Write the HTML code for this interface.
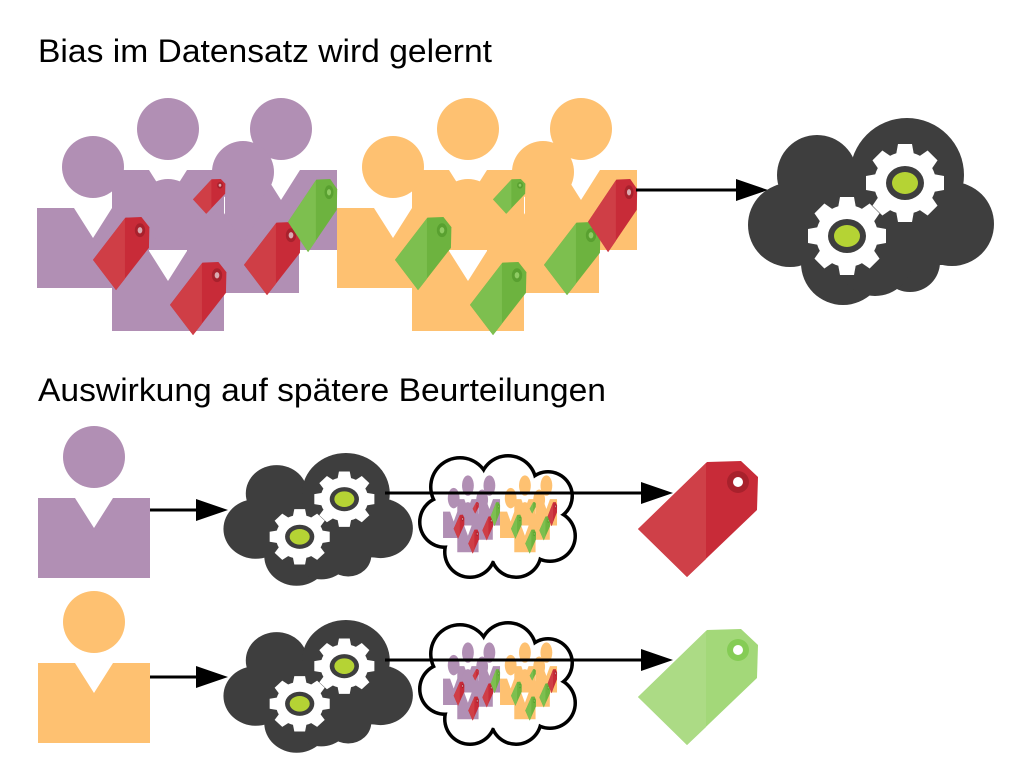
<!DOCTYPE html>
<html><head><meta charset="utf-8"><style>
html,body{margin:0;padding:0;background:#fff;width:1035px;height:780px;overflow:hidden}
svg{display:block}
text{font-family:"Liberation Sans",sans-serif;fill:#000}
</style></head><body>
<svg width="1035" height="780" viewBox="0 0 1035 780" xmlns="http://www.w3.org/2000/svg">
<defs>
  <g id="person">
    <circle cx="0" cy="0" r="31"/>
    <path d="M-56 41 H-19 L0 71 L19 41 H56 V121 H-56 Z"/>
  </g>
  <g id="tagR">
    <polygon points="0,68 69,1 103,0 120,16 119,49 49,116" fill="#c82b38"/>
    <polygon points="0,68 68,2 68,98 49,116" fill="#cf3e46"/>
    <circle cx="100" cy="21" r="11" fill="#a8212c"/>
    <circle cx="100" cy="21" r="5" fill="#d9aab0"/>
  </g>
  <g id="tagG">
    <polygon points="0,68 69,1 103,0 120,16 119,49 49,116" fill="#6db33f"/>
    <polygon points="0,68 68,2 68,98 49,116" fill="#7dbf4f"/>
    <circle cx="100" cy="21" r="11" fill="#59a030"/>
    <circle cx="100" cy="21" r="5" fill="#8fcb63"/>
  </g>
  <g id="grpP" fill="#b18fb4">
    <use href="#person" x="168" y="129"/>
    <use href="#person" x="281" y="129"/>
    <use href="#person" x="93" y="167"/>
    <use href="#person" x="243" y="172"/>
    <use href="#person" x="168" y="210"/>
  </g>
  <g id="grpO" fill="#fec171">
    <use href="#person" x="468" y="129"/>
    <use href="#person" x="581" y="129"/>
    <use href="#person" x="393" y="167"/>
    <use href="#person" x="543" y="172"/>
    <use href="#person" x="468" y="210"/>
  </g>
  <g id="groups">
    <use href="#grpP"/>
    <use href="#tagR" transform="translate(193,179) scale(0.27,0.3)"/>
    <use href="#tagR" transform="translate(93,217) scale(0.47,0.63)"/>
    <use href="#tagR" transform="translate(244,222) scale(0.47,0.63)"/>
    <use href="#tagR" transform="translate(170,262) scale(0.47,0.63)"/>
    <use href="#tagG" transform="translate(288,179) scale(0.41,0.63)"/>
    <use href="#grpO"/>
    <use href="#tagG" transform="translate(493,179) scale(0.27,0.3)"/>
    <use href="#tagG" transform="translate(395,217) scale(0.47,0.63)"/>
    <use href="#tagG" transform="translate(544,222) scale(0.47,0.63)"/>
    <use href="#tagG" transform="translate(470,262) scale(0.47,0.63)"/>
    <use href="#tagR" transform="translate(588,179) scale(0.41,0.63)"/>
  </g>
  <g id="gear">
    <g fill="#fff">
      <circle r="31"/>
      <polygon points="-7,-39 7,-39 9,-28 -9,-28"/>
      <polygon points="-7,-39 7,-39 9,-28 -9,-28" transform="rotate(45)"/>
      <polygon points="-7,-39 7,-39 9,-28 -9,-28" transform="rotate(90)"/>
      <polygon points="-7,-39 7,-39 9,-28 -9,-28" transform="rotate(135)"/>
      <polygon points="-7,-39 7,-39 9,-28 -9,-28" transform="rotate(180)"/>
      <polygon points="-7,-39 7,-39 9,-28 -9,-28" transform="rotate(225)"/>
      <polygon points="-7,-39 7,-39 9,-28 -9,-28" transform="rotate(270)"/>
      <polygon points="-7,-39 7,-39 9,-28 -9,-28" transform="rotate(315)"/>
    </g>
    <ellipse rx="19" ry="17" fill="#3e3e3e"/>
    <ellipse rx="13" ry="11" fill="#b5d334"/>
  </g>
  <g id="cloud">
    <g fill="#3e3e3e">
      <circle cx="67" cy="57" r="40"/>
      <circle cx="157" cy="57" r="57"/>
      <circle cx="40" cy="107" r="42"/>
      <circle cx="202" cy="106" r="42"/>
      <circle cx="93" cy="145" r="42"/>
      <circle cx="160" cy="144" r="30"/>
      <circle cx="125" cy="140" r="38"/>
      <rect x="40" y="57" width="162" height="90"/>
    </g>
    <use href="#gear" x="155" y="65"/>
    <use href="#gear" x="97" y="118"/>
  </g>
  <g id="bubble">
    <g fill="#000">
      <circle cx="42" cy="33" r="31"/><circle cx="90" cy="30" r="30"/>
      <circle cx="130" cy="42" r="26"/><circle cx="132" cy="82" r="27"/>
      <circle cx="98" cy="98" r="27"/><circle cx="52" cy="98" r="27"/>
      <circle cx="27" cy="68" r="27"/><circle cx="80" cy="65" r="42"/>
    </g>
    <g fill="#fff">
      <circle cx="42" cy="33" r="27.5"/><circle cx="90" cy="30" r="26.5"/>
      <circle cx="130" cy="42" r="22.5"/><circle cx="132" cy="82" r="23.5"/>
      <circle cx="98" cy="98" r="23.5"/><circle cx="52" cy="98" r="23.5"/>
      <circle cx="27" cy="68" r="23.5"/><circle cx="80" cy="65" r="42"/>
    </g>
  </g>
  <polygon id="ah" points="0,-11 32,0 0,11" fill="#000"/>
</defs>

<text x="38" y="62" font-size="32" textLength="454" lengthAdjust="spacingAndGlyphs">Bias im Datensatz wird gelernt</text>
<text x="38" y="401" font-size="32" textLength="568" lengthAdjust="spacingAndGlyphs">Auswirkung auf spätere Beurteilungen</text>

<use href="#groups"/>
<line x1="636" y1="190" x2="740" y2="190" stroke="#000" stroke-width="3"/>
<use href="#ah" x="736" y="190"/>
<use href="#cloud" x="750" y="118"/>

<use href="#person" x="94" y="457" fill="#b18fb4"/>
<line x1="150" y1="510" x2="200" y2="510" stroke="#000" stroke-width="3"/>
<use href="#ah" x="196" y="510"/>
<use href="#cloud" transform="translate(225,453) scale(0.77,0.71)"/>
<use href="#bubble" x="418" y="454"/>
<use href="#groups" transform="translate(436,443) scale(0.19,0.33)"/>
<line x1="385" y1="493" x2="645" y2="493" stroke="#000" stroke-width="3"/>
<use href="#ah" x="641" y="493"/>
<g transform="translate(638,461)">
  <polygon points="0,68 69,1 103,0 120,16 119,49 49,116" fill="#c82b38"/>
  <polygon points="0,68 68,2 68,98 49,116" fill="#cf4048"/>
  <circle cx="100" cy="21" r="11" fill="#a8212c"/>
  <circle cx="100" cy="21" r="5" fill="#fff"/>
</g>

<use href="#person" x="94" y="622" fill="#fec171"/>
<line x1="150" y1="677" x2="200" y2="677" stroke="#000" stroke-width="3"/>
<use href="#ah" x="196" y="677"/>
<use href="#cloud" transform="translate(225,620) scale(0.77,0.71)"/>
<use href="#bubble" x="418" y="621"/>
<use href="#groups" transform="translate(436,610) scale(0.19,0.33)"/>
<line x1="385" y1="660" x2="645" y2="660" stroke="#000" stroke-width="3"/>
<use href="#ah" x="641" y="660"/>
<g transform="translate(638,629)">
  <polygon points="0,68 69,1 103,0 120,16 119,49 49,116" fill="#a3d879"/>
  <polygon points="0,68 68,2 68,98 49,116" fill="#acdb85"/>
  <circle cx="100" cy="21" r="11" fill="#85cc55"/>
  <circle cx="100" cy="21" r="5" fill="#fff"/>
</g>
</svg>
</body></html>
